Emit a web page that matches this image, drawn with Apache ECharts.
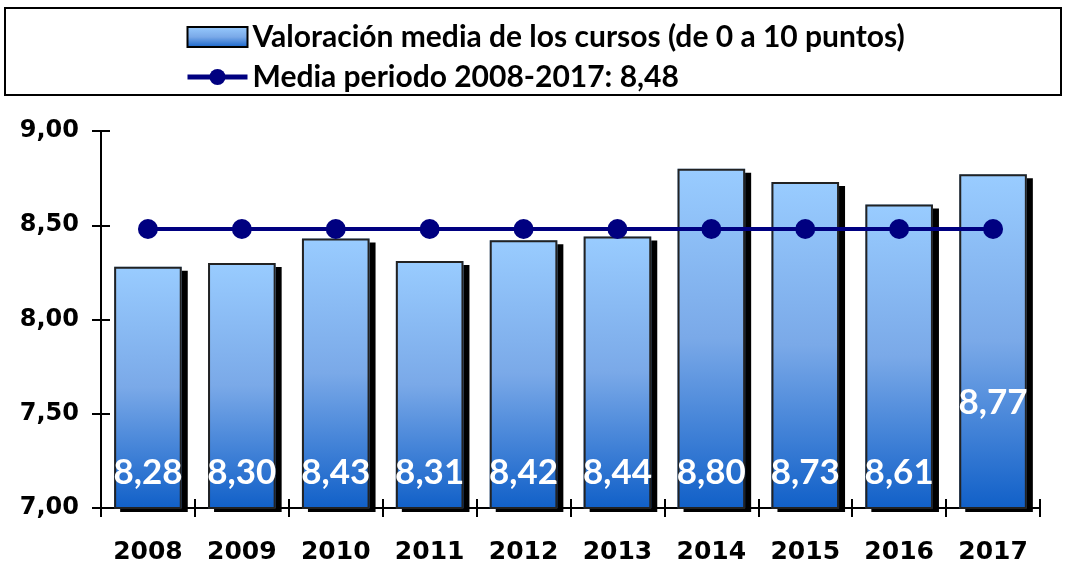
<!DOCTYPE html>
<html>
<head>
<meta charset="utf-8">
<script src="https://cdn.jsdelivr.net/npm/echarts@6/dist/echarts.min.js"></script>
<style>
  html, body { margin: 0; padding: 0; background: #fff; }
  #chart { width: 1065px; height: 567px; }
</style>
</head>
<body>
<div id="chart"></div>
<script>
var years = ['2008', '2009', '2010', '2011', '2012', '2013', '2014', '2015', '2016', '2017'];
var valoracion = [8.28, 8.30, 8.43, 8.31, 8.42, 8.44, 8.80, 8.73, 8.61, 8.77];
var mediaPeriodo = [8.48, 8.48, 8.48, 8.48, 8.48, 8.48, 8.48, 8.48, 8.48, 8.48];

var barName = 'Valoración media de los cursos (de 0 a 10 puntos)';
var lineName = 'Media periodo 2008-2017: 8,48';

function coma(v) {
    return v.toFixed(2).replace('.', ',');
}

var chart = echarts.init(document.getElementById('chart'));

var gradient = new echarts.graphic.LinearGradient(0, 0, 0, 1, [
    {offset: 0, color: '#99ccff'},
    {offset: 0.5, color: '#7aa9e8'},
    {offset: 1, color: '#1160c8'}
]);

// 2017 label sits higher in the original
var barData = valoracion.map(function (v, i) {
    if (i === 9) {
        return {value: v, label: {distance: 88}};
    }
    return v;
});

var axisFont = {fontFamily: 'DejaVu Sans', fontWeight: 'bold', fontSize: 24, color: '#000'};
var tickStyle = {color: '#000', width: 2};

var option = {
    backgroundColor: '#fff',
    animation: false,
    graphic: [{
        type: 'rect',
        shape: {x: 5, y: 8, width: 1056, height: 87},
        style: {fill: 'none', stroke: '#000', lineWidth: 2},
        z: 0
    }],
    legend: {
        orient: 'vertical',
        left: 180,
        top: 17,
        itemWidth: 60,
        itemHeight: 20,
        itemGap: 10,
        textStyle: {fontFamily: 'Lato', fontWeight: 'bold', fontSize: 30, color: '#000', lineHeight: 30},
        data: [
            {name: barName, icon: 'rect', itemStyle: {borderColor: '#000', borderWidth: 2}},
            {name: lineName, lineStyle: {width: 5}}
        ]
    },
    grid: {left: 101, right: 25, top: 131, bottom: 59},
    xAxis: [{
        type: 'category',
        data: years,
        axisLine: {lineStyle: {color: '#000', width: 2}},
        axisTick: {show: true, length: 9, lineStyle: tickStyle},
        axisLabel: Object.assign({margin: 32}, axisFont, {fontSize: 25})
    }, {
        type: 'category',
        data: years,
        position: 'bottom',
        axisLine: {show: false},
        axisTick: {show: true, inside: true, length: 9, lineStyle: tickStyle},
        axisLabel: {show: false}
    }],
    yAxis: [{
        type: 'value',
        min: 7,
        max: 9,
        interval: 0.5,
        axisLine: {show: true, lineStyle: {color: '#000', width: 2}},
        axisTick: {show: true, length: 9, lineStyle: tickStyle},
        splitLine: {show: false},
        axisLabel: Object.assign({margin: 22, formatter: function (v) { return coma(v); }}, axisFont)
    }, {
        type: 'value',
        min: 7,
        max: 9,
        interval: 0.5,
        position: 'left',
        axisLine: {show: false},
        axisTick: {show: true, inside: true, length: 9, lineStyle: tickStyle},
        splitLine: {show: false},
        axisLabel: {show: false}
    }],
    series: [
        {
            // filled bars with the hard black drop shadow
            name: barName,
            type: 'bar',
            data: barData,
            barWidth: '72%',
            itemStyle: {
                color: gradient,
                shadowColor: '#000',
                shadowBlur: 0,
                shadowOffsetX: 6,
                shadowOffsetY: 4
            },
            label: {
                show: true,
                position: 'insideBottom',
                distance: 18,
                fontFamily: 'Lato',
                fontWeight: 'bold',
                fontSize: 35,
                color: '#fff',
                formatter: function (p) { return coma(p.value); }
            },
            z: 2
        },
        {
            // outline only, drawn on top so the shadow doesn't smear the border
            name: 'contorno',
            type: 'bar',
            data: valoracion,
            barWidth: '72%',
            barGap: '-100%',
            itemStyle: {color: 'rgba(0,0,0,0)', borderColor: '#222', borderWidth: 2},
            silent: true,
            z: 2
        },
        {
            name: lineName,
            type: 'line',
            data: mediaPeriodo,
            symbol: 'circle',
            symbolSize: 20,
            lineStyle: {color: '#000080', width: 4},
            itemStyle: {color: '#000080'},
            z: 3
        }
    ]
};

chart.setOption(option);
</script>
</body>
</html>
